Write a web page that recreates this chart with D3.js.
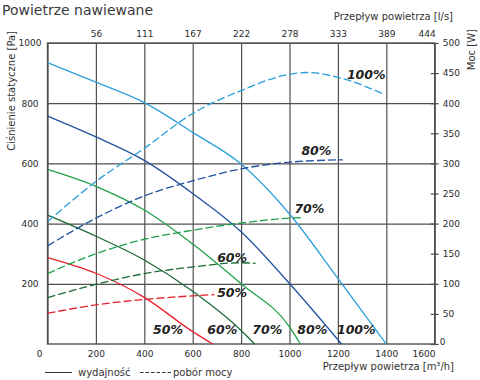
<!DOCTYPE html>
<html><head><meta charset="utf-8">
<script src="https://cdn.jsdelivr.net/npm/d3@7"></script>
<style>
html,body{margin:0;padding:0;background:#fff;}
svg{display:block;}
text{font-family:"DejaVu Sans",Verdana,sans-serif;}
</style></head>
<body>
<svg id="chart" width="480" height="380"></svg>
<script>
// ---------- data ----------
const flowTicks = [0,200,400,600,800,1000,1200,1400,1600];
const flowLsLabels = ["56","111","167","222","278","333","389","444"];
const pressureTicks = [200,400,600,800,1000];
const powerTicks = [0,50,100,150,200,250,300,350,400,450,500];
const speeds = ["100%","80%","70%","60%","50%"];

// static pressure [Pa] vs air flow [m3/h]
const pressure100 = [[0,935],[200,870],[400,802],[600,703],[800,598],[1000,432],[1200,218],[1400,0]];
const pressure80  = [[0,757],[200,688],[400,610],[600,500],[800,373],[1000,201],[1215,0]];
const pressure70  = [[0,580],[200,524],[400,445],[600,332],[800,200],[1000,57],[1045,0]];
const pressure60  = [[0,428],[200,358],[400,279],[600,175],[800,45],[856,0]];
const pressure50  = [[0,287],[200,235],[400,155],[600,41],[683,0]];

// power consumption [W] vs air flow [m3/h]
const power100 = [[0,203],[200,270],[400,325],[600,383],[800,421],[1000,448],[1070,451],[1200,443],[1390,415]];
const power80  = [[0,163],[200,209],[400,246],[600,271],[800,291],[1000,302],[1220,306]];
const power70  = [[0,117],[200,150],[400,174],[600,189],[800,201],[1000,209],[1050,210]];
const power60  = [[0,77],[200,99],[400,117],[600,128],[800,135],[860,134]];
const power50  = [[0,51],[200,65],[400,74],[600,80],[690,82]];

const pressureSeries = [pressure100,pressure80,pressure70,pressure60,pressure50];
const powerSeries = [power100,power80,power70,power60,power50];

// ---------- layout / style ----------
const colors = ["#2b9fdb","#22539f","#1fa04a","#1b6a35","#e8212e"];
const L = 47.5, R = 434.7, T = 43, B = 344;
// label anchor points in data space (flow, power) and (flow, pressure)
const powerLabelPos = [[1317,440],[1111,314],[1082,218],[763,136],[763,78]];
const pressureLabelPos = [[1276,33],[1094,33],[908,33],[722,33],[498,33]];

const svg = d3.select("#chart");
const x = d3.scaleLinear().domain([0,1600]).range([L,R]);
const y = d3.scaleLinear().domain([0,1000]).range([B,T]);
const yW = d3.scaleLinear().domain([0,500]).range([B,T]);
const fmt = d3.format("d");

const gridColor = "#505050";
const textColor = "#2a2a2a";

// title
svg.append("text").attr("x",2).attr("y",15).attr("font-size",14)
  .attr("fill","#3a3a3a").text("Powietrze nawiewane");

// vertical gridlines + bottom labels
const gx = svg.append("g").attr("transform",`translate(0,${B})`)
  .call(d3.axisBottom(x).tickValues(flowTicks).tickFormat(fmt).tickSize(-(B-T)).tickPadding(5));
gx.select(".domain").remove();
gx.selectAll(".tick line").attr("stroke",gridColor).attr("stroke-width",1.2);
gx.selectAll(".tick text").attr("font-size",9).attr("fill",textColor)
  .attr("font-family","DejaVu Sans").attr("dy","0.9em")
  .each(function(d){
    if(d===0) d3.select(this).attr("dx",-8.5);
    if(d===1600) d3.select(this).attr("text-anchor","end").attr("dx",0.3);
  });

// horizontal gridlines + left labels
const gy = svg.append("g").attr("transform",`translate(${L},0)`)
  .call(d3.axisLeft(y).tickValues(pressureTicks).tickFormat(fmt).tickSize(-(R-L)).tickPadding(0));
gy.select(".domain").remove();
gy.selectAll(".tick line").attr("stroke",gridColor).attr("stroke-width",1.2);
gy.selectAll(".tick text").attr("font-size",9).attr("fill",textColor)
  .attr("font-family","DejaVu Sans").attr("text-anchor","middle").attr("x",-17.5);

// top axis (l/s)
const gt = svg.append("g").attr("transform",`translate(0,${T})`)
  .call(d3.axisTop(x).tickValues(flowTicks.slice(1)).tickSize(0).tickPadding(6)
    .tickFormat((d,i)=>flowLsLabels[i]));
gt.select(".domain").remove();
gt.selectAll(".tick text").attr("font-size",9).attr("fill",textColor).attr("font-family","DejaVu Sans");
gt.selectAll(".tick text").filter(d=>d===1600).attr("text-anchor","end").attr("x",0.5);

// right axis (power)
const gr = svg.append("g").attr("transform",`translate(${R},0)`)
  .call(d3.axisRight(yW).tickValues(powerTicks).tickFormat(fmt).tickSize(4).tickPadding(4));
gr.select(".domain").remove();
gr.selectAll(".tick line").attr("stroke",gridColor).attr("stroke-width",1.2).attr("x1",-4);
gr.selectAll(".tick text").attr("font-size",9).attr("fill",textColor).attr("font-family","DejaVu Sans");
gr.selectAll(".tick text").filter(d=>d===0).attr("dy","0.1em").attr("x",5);

// frame
svg.append("rect").attr("x",L).attr("y",T).attr("width",R-L).attr("height",B-T)
  .attr("fill","none").attr("stroke",gridColor).attr("stroke-width",1.4);

// curves
pressureSeries.forEach((s,i)=>{
  svg.append("path").attr("d",d3.line().x(d=>x(d[0])).y(d=>y(d[1])).curve(d3.curveMonotoneX)(s))
    .attr("fill","none").attr("stroke",colors[i]).attr("stroke-width",1.3);
});
powerSeries.forEach((s,i)=>{
  svg.append("path").attr("d",d3.line().x(d=>x(d[0])).y(d=>yW(d[1])).curve(d3.curveMonotoneX)(s))
    .attr("fill","none").attr("stroke",colors[i]).attr("stroke-width",1.3)
    .attr("stroke-dasharray","8,3");
});

// speed labels
const labelStyle = sel => sel.attr("font-family","Liberation Sans, Arial, sans-serif")
  .attr("font-weight","bold").attr("font-style","italic").attr("font-size",12.5)
  .attr("fill","#222").attr("text-anchor","middle");
speeds.forEach((s,i)=>{
  svg.append("text").attr("x",x(powerLabelPos[i][0])).attr("y",yW(powerLabelPos[i][1]))
    .text(s).call(labelStyle);
  svg.append("text").attr("x",x(pressureLabelPos[i][0])).attr("y",y(pressureLabelPos[i][1]))
    .text(s).call(labelStyle);
});

// axis titles
svg.append("text").attr("transform","translate(15,31) rotate(-90)").attr("text-anchor","end")
  .attr("font-size",10).attr("fill","#333").text("Ciśnienie statyczne [Pa]");
svg.append("text").attr("transform","translate(475,29) rotate(-90)").attr("text-anchor","end")
  .attr("font-size",10).attr("fill","#333").text("Moc [W]");
svg.append("text").attr("x",453).attr("y",20).attr("text-anchor","end")
  .attr("font-size",10).attr("fill","#333").text("Przepływ powietrza [l/s]");
svg.append("text").attr("x",454).attr("y",370).attr("text-anchor","end")
  .attr("font-size",10).attr("fill","#333").text("Przepływ powietrza [m³/h]");

// legend
svg.append("line").attr("x1",45).attr("x2",72).attr("y1",372.5).attr("y2",372.5)
  .attr("stroke","#333").attr("stroke-width",1);
svg.append("text").attr("x",78).attr("y",376).attr("font-size",10).attr("fill","#333").text("wydajność");
svg.append("line").attr("x1",140).attr("x2",172).attr("y1",372.5).attr("y2",372.5)
  .attr("stroke","#333").attr("stroke-width",1).attr("stroke-dasharray","3.5,2");
svg.append("text").attr("x",173).attr("y",376).attr("font-size",10).attr("fill","#333").text("pobór mocy");
</script>
</body></html>
